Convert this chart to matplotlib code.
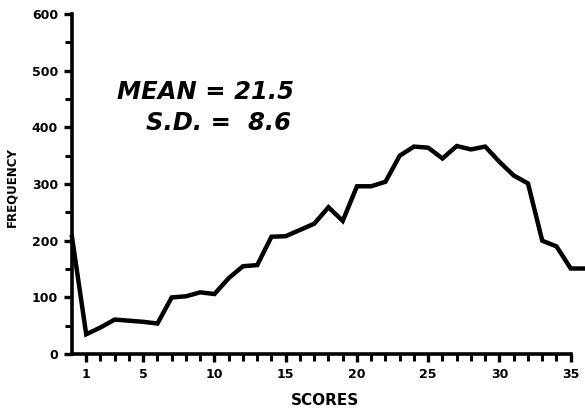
import matplotlib
matplotlib.use("Agg")
import matplotlib.pyplot as plt
from matplotlib.ticker import FixedLocator

scores = list(range(0, 37))
frequency = [207, 35, 47, 61, 59, 57, 54, 100, 102, 109, 106, 134, 155, 157,
             207, 208, 219, 230, 259, 235, 296, 296, 304, 350, 366, 364, 345,
             367, 361, 366, 339, 315, 301, 200, 190, 151, 151]
x_labels = [1, 5, 10, 15, 20, 25, 30, 35]
y_labels = [0, 100, 200, 300, 400, 500, 600]

fig = plt.figure(figsize=(5.85, 4.08), dpi=100)
ax = fig.add_axes([0.123, 0.132, 0.877, 0.834])

ax.plot(scores, frequency, color="black", lw=3.2, solid_joinstyle="miter",
        clip_on=False, zorder=3)

ax.set_xlim(0, 36)
ax.set_ylim(0, 600)

for s in ["top", "right"]:
    ax.spines[s].set_visible(False)
for s in ["left", "bottom"]:
    ax.spines[s].set_linewidth(2.6)
ax.spines["bottom"].set_bounds(0, 35)

ax.xaxis.set_major_locator(FixedLocator(x_labels))
ax.xaxis.set_minor_locator(FixedLocator(list(range(1, 36))))
ax.yaxis.set_major_locator(FixedLocator(y_labels))
ax.yaxis.set_minor_locator(FixedLocator(list(range(50, 600, 100))))

ax.tick_params(axis="both", which="major", direction="out", length=6, width=2.4,
               labelsize=9, pad=4)
ax.tick_params(axis="both", which="minor", direction="out", length=5, width=2.2)
ax.set_xticklabels([str(v) for v in x_labels], fontweight="bold")
ax.set_yticklabels([str(v) for v in y_labels], fontweight="bold")

ax.set_xlabel("SCORES", fontsize=11, fontweight="bold")
ax.xaxis.set_label_coords(0.493, -0.115)
ax.set_ylabel("FREQUENCY", fontsize=8.5, fontweight="bold")
ax.yaxis.set_label_coords(-0.105, 0.49)

ax.text(9.4, 462, "MEAN = 21.5", fontsize=17.5, fontstyle="italic",
        fontweight="semibold", ha="center", va="center")
ax.text(10.3, 407, "S.D. =  8.6", fontsize=17.5, fontstyle="italic",
        fontweight="semibold", ha="center", va="center")

fig.savefig("out.png", dpi=100)
